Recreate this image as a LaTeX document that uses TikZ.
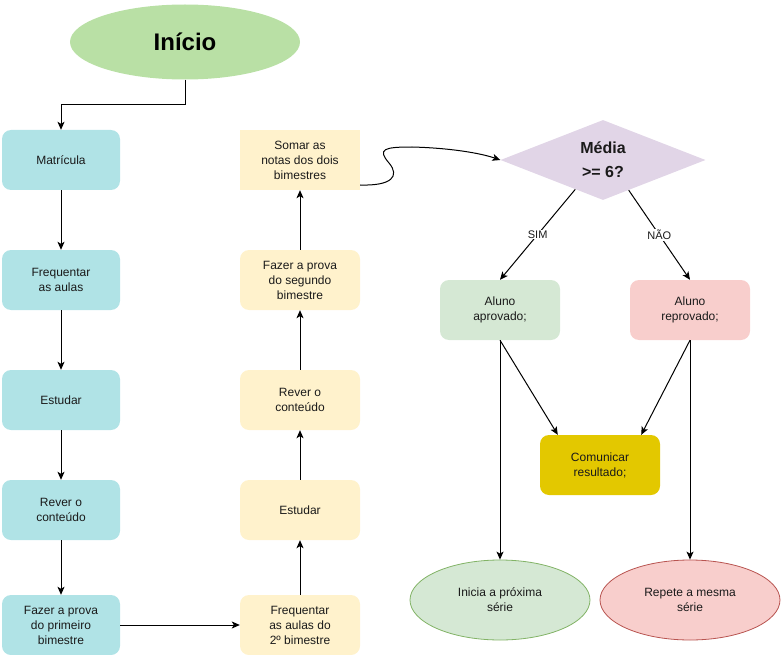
\documentclass[tikz,border=0pt]{standalone}
\usepackage{fontspec}
\setmainfont{Liberation Sans}
\usetikzlibrary{shapes.geometric,arrows.meta,calc}
\definecolor{cStart}{HTML}{B9E0A5}
\definecolor{cBlue}{HTML}{B0E3E6}
\definecolor{cYel}{HTML}{FFF2CC}
\definecolor{cPur}{HTML}{E1D5E7}
\definecolor{cGrn}{HTML}{D5E8D4}
\definecolor{cGrnS}{HTML}{82B366}
\definecolor{cRed}{HTML}{F8CECC}
\definecolor{cRedS}{HTML}{B85450}
\definecolor{cGold}{HTML}{E3C800}
\definecolor{cTxt}{HTML}{1A1A1A}
\tikzset{
  box/.style={rectangle, rounded corners=9pt, minimum width=#1, minimum height=60pt, inner sep=0pt, align=center, text=cTxt, font=\fontsize{12}{15}\selectfont},
  box/.default=118pt,
  bluebox/.style={box, fill=cBlue},
  yelbox/.style={box=120pt, fill=cYel},
  arr/.style={line width=1pt, -{Stealth[length=8pt,width=7pt,inset=2pt]}},
  lbl/.style={fill=white, inner sep=1pt, font=\fontsize{11}{13}\selectfont, text=cTxt}
}
\begin{document}
\begin{tikzpicture}[x=1pt,y=-1pt]
\useasboundingbox (0,0) rectangle (781,655);
% start
\node[ellipse, fill=cStart, minimum width=230pt, minimum height=75pt, inner sep=0pt, font=\fontsize{24}{28}\selectfont\bfseries] (inicio) at (185,42) {Início};
% blue column
\node[bluebox] (b1) at (61,160) {Matrícula};
\node[bluebox] (b2) at (61,280) {Frequentar\\as aulas};
\node[bluebox] (b3) at (61,400) {Estudar};
\node[bluebox] (b4) at (61,510) {Rever o\\conteúdo};
\node[bluebox] (b5) at (61,625) {Fazer a prova\\do primeiro\\bimestre};
% yellow column
\node[yelbox, rounded corners=0pt] (y1) at (300,160) {Somar as\\notas dos dois\\bimestres};
\node[yelbox] (y2) at (300,280) {Fazer a prova\\do segundo\\bimestre};
\node[yelbox] (y3) at (300,400) {Rever o\\conteúdo};
\node[yelbox] (y4) at (300,510) {Estudar};
\node[yelbox] (y5) at (300,625) {Frequentar\\as aulas do\\2º bimestre};
% decision
\node[diamond, aspect=2.56, fill=cPur, minimum width=205pt, minimum height=80pt, inner sep=0pt, align=center, font=\fontsize{16}{24}\selectfont\bfseries, text=cTxt] (dia) at (603,160) {Média\\>= 6?};
\node[box=120pt, fill=cGrn] (apr) at (500,310) {Aluno\\aprovado;};
\node[box=120pt, fill=cRed] (rep) at (690,310) {Aluno\\reprovado;};
\node[box=120pt, fill=cGold] (com) at (600,465) {Comunicar\\resultado;};
\node[ellipse, fill=cGrn, draw=cGrnS, line width=0.8pt, minimum width=180pt, minimum height=80pt, inner sep=0pt, align=center, text=cTxt, font=\fontsize{12}{15}\selectfont] (ini) at (500,600) {Inicia a próxima\\série};
\node[ellipse, fill=cRed, draw=cRedS, line width=0.8pt, minimum width=180pt, minimum height=80pt, inner sep=0pt, align=center, text=cTxt, font=\fontsize{12}{15}\selectfont] (repete) at (690,600) {Repete a mesma\\série};
% connectors
\draw[arr] (inicio.south) -- ++(0,25) -| (b1.north);
\draw[arr] (b1) -- (b2);
\draw[arr] (b2) -- (b3);
\draw[arr] (b3) -- (b4);
\draw[arr] (b4) -- (b5);
\draw[arr] (b5) -- (y5);
\draw[arr] (y5) -- (y4);
\draw[arr] (y4) -- (y3);
\draw[arr] (y3) -- (y2);
\draw[arr] (y2) -- (y1);
\coordinate (s1) at ($(y1.east)+(0,25)$);
\draw[arr] (s1) .. controls (392,186) and (400,176) .. (389,163)
  .. controls (377,149) and (384,147) .. (412,147)
  .. controls (450,148) and (480,153) .. (dia.west);
\coordinate (d1) at ($(dia.west)!0.73!(dia.south)$);
\coordinate (d2) at ($(dia.east)!0.75!(dia.south)$);
\draw[arr] (d1) -- node[lbl]{SIM} (apr.north);
\draw[arr] (d2) -- node[lbl]{NÃO} (rep.north);
\draw[arr] (apr.south) -- ($(com.north west)+(18,0)$);
\draw[arr] (rep.south) -- ($(com.north east)+(-19,0)$);
\draw[arr] (apr.south) -- (ini.north);
\draw[arr] (rep.south) -- (repete.north);
\end{tikzpicture}
\end{document}
